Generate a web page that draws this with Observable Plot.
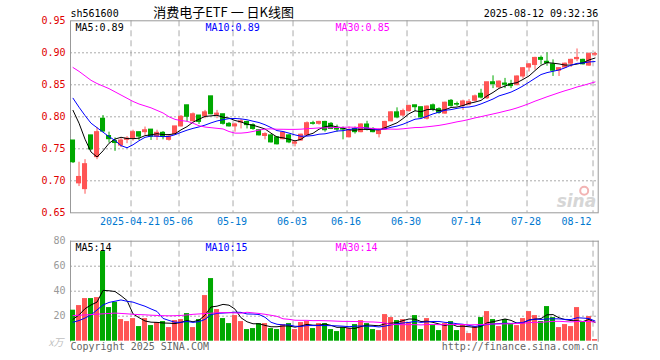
<!DOCTYPE html>
<html><head><meta charset="utf-8">
<script src="https://cdn.jsdelivr.net/npm/d3@7"></script>
<script src="https://cdn.jsdelivr.net/npm/@observablehq/plot@0.6"></script>
<style>
html,body{margin:0;padding:0;background:#fff;}
#chart{position:relative;width:660px;height:360px;overflow:hidden;background:#fff;}
#chart svg{position:absolute;left:0;}
</style></head><body><div id="chart"></div>
<script>
// ---- data ----
const symbol = "sh561600";
const title = "消费电子ETF 一 日K线图";
const stamp = "2025-08-12 09:32:36";
const tickIdx = [10, 18, 27, 37, 46, 56, 66, 76, 87];
const tickLabels = ["2025-04-21", "05-06", "05-19", "06-03", "06-16", "06-30", "07-14", "07-28", "08-12"];
const priceTicks = [0.65, 0.70, 0.75, 0.80, 0.85, 0.90, 0.95];
const volTicks = [20, 40, 60, 80];
const priceMaLabels = ["MA5:0.89", "MA10:0.89", "MA30:0.85"];
const volMaLabels = ["MA5:14", "MA10:15", "MA30:14"];
const volUnit = "x万";
const copyright = "Copyright 2025 SINA.COM";
const url = "http://finance.sina.com.cn";

const open = [0.763,0.696,0.687,0.771,0.737,0.797,0.770,0.762,0.755,0.764,
  0.766,0.776,0.776,0.780,0.769,0.775,0.764,0.773,0.785,0.818,
  0.793,0.802,0.801,0.832,0.803,0.804,0.789,0.785,0.791,0.792,
  0.787,0.779,0.770,0.771,0.768,0.765,0.771,0.758,0.763,0.771,
  0.790,0.789,0.792,0.789,0.781,0.781,0.768,0.781,0.776,0.788,
  0.781,0.773,0.780,0.793,0.807,0.802,0.809,0.818,0.815,0.797,
  0.818,0.812,0.805,0.825,0.820,0.817,0.819,0.825,0.836,0.829,
  0.854,0.846,0.852,0.851,0.850,0.863,0.877,0.881,0.892,0.886,
  0.882,0.872,0.877,0.883,0.890,0.889,0.880,0.897];
const high = [0.763,0.729,0.733,0.771,0.783,0.802,0.776,0.767,0.767,0.769,
  0.779,0.776,0.784,0.780,0.779,0.777,0.771,0.785,0.802,0.818,
  0.806,0.802,0.810,0.832,0.810,0.804,0.791,0.790,0.796,0.793,
  0.789,0.780,0.775,0.772,0.769,0.776,0.772,0.763,0.773,0.792,
  0.793,0.793,0.793,0.791,0.787,0.784,0.784,0.784,0.789,0.793,
  0.783,0.781,0.793,0.808,0.814,0.812,0.818,0.818,0.815,0.817,
  0.820,0.814,0.823,0.827,0.823,0.826,0.827,0.834,0.843,0.854,
  0.864,0.856,0.860,0.857,0.864,0.877,0.883,0.893,0.895,0.900,
  0.889,0.877,0.884,0.890,0.906,0.890,0.900,0.901];
const low = [0.727,0.691,0.679,0.747,0.733,0.776,0.759,0.746,0.752,0.758,
  0.762,0.763,0.771,0.763,0.763,0.764,0.762,0.771,0.784,0.792,
  0.792,0.788,0.797,0.803,0.797,0.787,0.784,0.776,0.781,0.781,
  0.779,0.770,0.764,0.759,0.756,0.764,0.758,0.753,0.762,0.770,
  0.787,0.787,0.776,0.780,0.776,0.764,0.767,0.773,0.775,0.778,
  0.775,0.767,0.779,0.792,0.797,0.800,0.807,0.808,0.797,0.795,
  0.808,0.804,0.804,0.815,0.816,0.810,0.817,0.823,0.828,0.827,
  0.844,0.844,0.844,0.844,0.848,0.859,0.870,0.873,0.881,0.879,
  0.863,0.863,0.876,0.877,0.886,0.881,0.879,0.894];
const close = [0.729,0.706,0.726,0.749,0.776,0.777,0.765,0.759,0.763,0.766,
  0.776,0.769,0.779,0.769,0.775,0.769,0.769,0.785,0.800,0.800,
  0.804,0.792,0.807,0.804,0.805,0.789,0.785,0.788,0.793,0.787,
  0.781,0.771,0.773,0.760,0.757,0.775,0.760,0.760,0.772,0.790,
  0.789,0.792,0.779,0.781,0.780,0.780,0.778,0.776,0.788,0.780,
  0.776,0.779,0.792,0.807,0.799,0.809,0.817,0.815,0.799,0.816,
  0.812,0.806,0.822,0.817,0.819,0.824,0.823,0.832,0.830,0.854,
  0.851,0.855,0.850,0.848,0.863,0.876,0.882,0.892,0.889,0.884,
  0.872,0.876,0.883,0.889,0.892,0.882,0.898,0.898];
const volume = [24.8,28.5,34.1,34.1,34.9,71.7,26.9,31.2,17.3,15.7,
  18.1,11.7,18.1,12.5,14.9,15.7,10.9,16.5,17.3,22.1,
  10.9,17.3,36.5,50.1,25.3,18.1,14.1,20.5,15.7,9.3,
  10.1,14.1,14.1,10.1,9.3,13.3,14.1,9.3,14.9,15.7,
  10.1,14.1,14.1,9.3,7.7,10.9,10.1,13.3,16.5,14.1,
  9.3,8.5,21.3,18.9,16.5,17.3,14.9,20.5,9.3,18.1,
  12.5,8.5,14.1,15.7,8.5,13.3,6.1,11.7,18.9,23.7,
  17.3,11.7,17.3,13.3,12.5,18.1,23.7,20.5,15.7,27.7,
  18.9,10.9,13.3,11.7,26.9,15.7,19.7,1.3];
// moving-average values before a full window exists
const ma5Head = [0.810, 0.790, 0.765, 0.745];
const ma10Head = [0.829, 0.815, 0.802, 0.790, 0.783, 0.776, 0.769, 0.763, 0.755];
const ma30Head = [0.877,0.871,0.864,0.857,0.852,0.848,0.844,0.839,0.834,0.829,
  0.824,0.820,0.817,0.814,0.810,0.806,0.800,0.796,0.794,0.793,
  0.790,0.786,0.784,0.783,0.782,0.781,0.777,0.7745,0.7745];
const vma5Head = [17.5, 21, 26, 29];
const vma10Head = [15.2, 16.5, 18.5, 21, 25, 29, 31, 32, 33];
const vma30Head = [20.5,20.8,21.0,21.3,21.6,21.9,22.2,22.5,22.2,21.9,
  21.5,21.3,21.1,20.8,20.6,20.4,20.3,20.4,20.6,21.0,
  21.5,21.8,22.1,22.4,22.7,22.9,22.8,22.6,22.4];

// ---- styles ----
const UP = "#ff5555", DOWN = "#00a800";
const MA_COLORS = ["#000000", "#0000ff", "#ff00ff"];
const GRID = "#aaaaaa", FRAME = "#999999";
const MONO = "'DejaVu Sans Mono', monospace";

function movingAvg(values, k, head) {
  return values.map((v, i) => i < k - 1 ? head[i] : d3.mean(values.slice(i - k + 1, i + 1)));
}
const bars = close.map((c, i) => ({i, o: open[i], h: high[i], l: low[i], c, v: volume[i], up: c >= open[i]}));
const upBars = bars.filter(d => d.up), downBars = bars.filter(d => !d.up);
const priceMA = [movingAvg(close, 5, ma5Head), movingAvg(close, 10, ma10Head), movingAvg(close, 30, ma30Head)];
const volMA = [movingAvg(volume, 5, vma5Head), movingAvg(volume, 10, vma10Head), movingAvg(volume, 30, vma30Head)];
const xDomain = [-0.42, 87.53];
const ticks = tickIdx.map((i, k) => ({i, label: tickLabels[k]}));
const style = {fontFamily: MONO, fontSize: "10px", background: "transparent", overflow: "visible"};
const labelDx = [5, 135, 265];

function maLines(series) {
  return series.map((s, k) => Plot.line(s.map((v, i) => ({i, v})), {x: "i", y: "v", stroke: MA_COLORS[k], strokeWidth: 1}));
}
function maLabels(labels, dy) {
  return labels.map((t, k) => Plot.text([t], {text: d => d, frameAnchor: "top-left", dx: labelDx[k], dy, textAnchor: "start", lineAnchor: "bottom", fill: MA_COLORS[k]}));
}

const main = Plot.plot({
  width: 660, height: 232,
  marginLeft: 70, marginRight: 62.3, marginTop: 20.3, marginBottom: 19.7,
  x: {domain: xDomain, axis: null},
  y: {domain: [0.65, 0.95]},
  style,
  marks: [
    Plot.ruleY(priceTicks.slice(1, -1), {stroke: GRID, strokeDasharray: "2,2"}),
    Plot.ruleX(tickIdx, {dx: -2, stroke: GRID, strokeDasharray: "6,4"}),
    Plot.frame({stroke: FRAME}),
    Plot.axisY({ticks: priceTicks, tickSize: 0, tickPadding: 5, color: "#e00000", tickFormat: d => d.toFixed(2), label: null}),
    Plot.text(["sina"], {text: d => d, frameAnchor: "bottom-right", dx: -2, dy: -6, textAnchor: "end", lineAnchor: "bottom", fontSize: 17, fontStyle: "italic", fontWeight: "bold", fontFamily: "DejaVu Sans", fill: "#d6d6d6"}),
    Plot.dot([0], {frameAnchor: "bottom-right", dx: -14, dy: -22, r: 4, stroke: "#f2b3b3", strokeWidth: 2, fill: "none"}),
    Plot.ruleX(upBars, {x: "i", y1: "l", y2: "h", stroke: UP}),
    Plot.ruleX(downBars, {x: "i", y1: "l", y2: "h", stroke: DOWN}),
    Plot.rect(upBars, {x1: d => d.i - 0.42, x2: d => d.i + 0.42, y1: d => Math.min(d.o, d.c), y2: d => Math.max(d.o, d.c), fill: UP, insetTop: -0.5, insetBottom: -0.5}),
    Plot.rect(downBars, {x1: d => d.i - 0.42, x2: d => d.i + 0.42, y1: d => Math.min(d.o, d.c), y2: d => Math.max(d.o, d.c), fill: DOWN, insetTop: -0.5, insetBottom: -0.5}),
    ...maLines(priceMA),
    ...maLabels(priceMaLabels, 9.7),
    Plot.text(ticks.slice(0, -1), {x: "i", text: "label", frameAnchor: "bottom", dx: -3, dy: 9, lineAnchor: "middle", fill: "#0078d0"}),
    Plot.text(ticks.slice(-1), {x: "i", text: "label", frameAnchor: "bottom", dx: -3.5, dy: 9, textAnchor: "end", lineAnchor: "middle", fill: "#0078d0"}),
    Plot.text([symbol], {text: d => d, frameAnchor: "top-left", dy: -3.8, textAnchor: "start", lineAnchor: "bottom", fill: "#000"}),
    Plot.text([title], {text: d => d, frameAnchor: "top", dx: -110.8, dy: -3.8, lineAnchor: "bottom", fontSize: 13, fontFamily: "'Noto Sans CJK SC', sans-serif", fill: "#000"}),
    Plot.text([stamp], {text: d => d, frameAnchor: "top-right", dy: -3.8, textAnchor: "end", lineAnchor: "bottom", fill: "#000"})
  ]
});
main.style.top = "0px";

const vol = Plot.plot({
  width: 660, height: 128,
  marginLeft: 70, marginRight: 62.3, marginTop: 8.7, marginBottom: 19.3,
  x: {domain: xDomain, axis: null},
  y: {domain: [0, 80]},
  style,
  marks: [
    Plot.ruleY(volTicks.slice(0, -1), {stroke: GRID, strokeDasharray: "2,2"}),
    Plot.ruleX(tickIdx, {dx: -2, stroke: GRID, strokeDasharray: "6,4"}),
    Plot.frame({anchor: "top", stroke: FRAME}),
    Plot.frame({anchor: "left", stroke: FRAME}),
    Plot.frame({anchor: "right", stroke: FRAME}),
    Plot.axisY({ticks: volTicks, tickSize: 0, tickPadding: 5, color: "#999999", label: null}),
    Plot.rect(upBars, {x1: d => d.i - 0.42, x2: d => d.i + 0.42, y1: 0, y2: "v", fill: UP}),
    Plot.rect(downBars, {x1: d => d.i - 0.42, x2: d => d.i + 0.42, y1: 0, y2: "v", fill: DOWN}),
    ...maLines(volMA),
    ...maLabels(volMaLabels, 9.3),
    Plot.text([volUnit], {text: d => d, frameAnchor: "bottom-left", dx: -7, dy: 4.3, textAnchor: "end", lineAnchor: "bottom", fontStyle: "italic", fill: "#c0c0c0", fontFamily: "'Noto Sans CJK SC', sans-serif"}),
    Plot.text([copyright], {text: d => d, frameAnchor: "bottom-left", dy: 8.6, textAnchor: "start", lineAnchor: "bottom", fill: "#666"}),
    Plot.text([url], {text: d => d, frameAnchor: "bottom-right", dy: 8.6, textAnchor: "end", lineAnchor: "bottom", fill: "#666"})
  ]
});
vol.style.top = "232px";

const root = document.getElementById("chart");
root.appendChild(main);
root.appendChild(vol);
</script>
</body></html>
